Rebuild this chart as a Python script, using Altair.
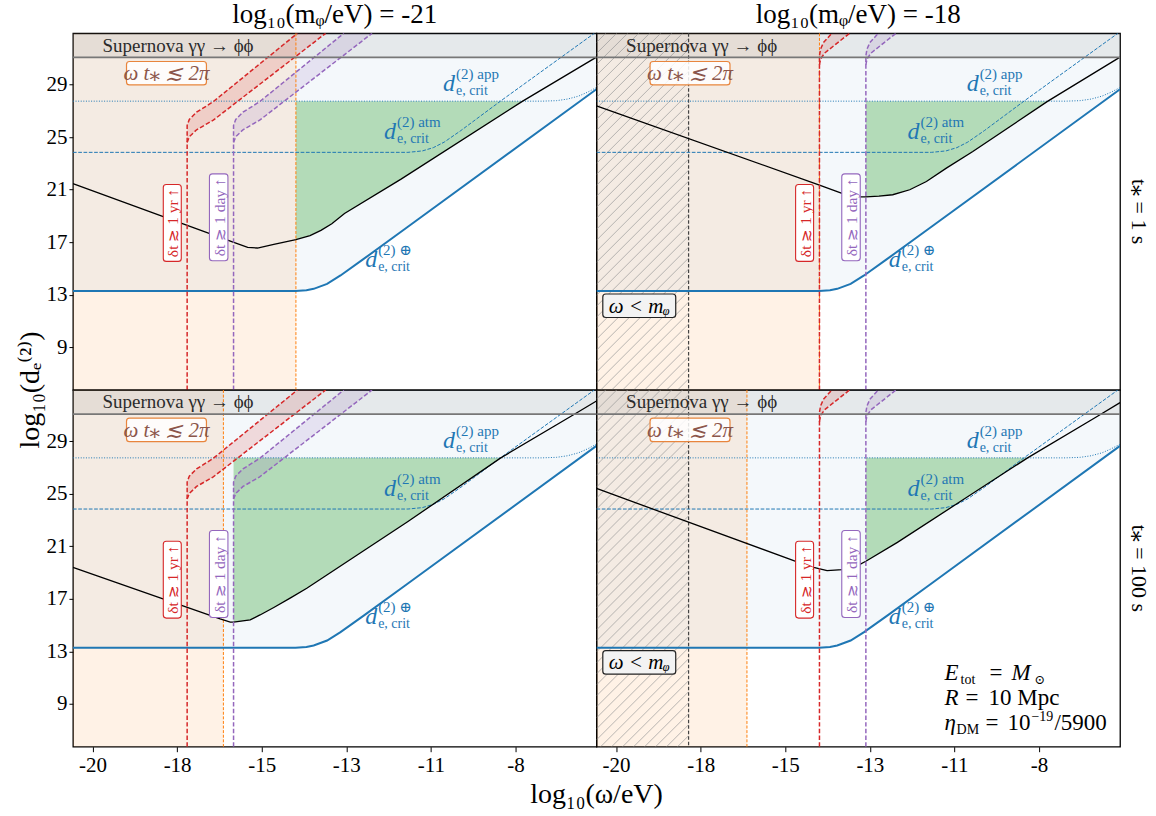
import altair as alt
import pandas as pd

FONT = "Liberation Serif, DejaVu Serif, serif"
BLUE = "#1f77b4"
ORANGE = "#ff7f0e"
GREEN = "#2ca02c"
RED = "#d62728"
PURPLE = "#9467bd"
BROWN = "#8c564b"

# ---- axes -------------------------------------------------------------
X_DOMAIN = [-20.54, -6.10]
Y_DOMAIN = [5.73, 32.91]
X_TICKS = [-20.0, -17.667, -15.333, -13.0, -10.667, -8.333]
Y_TICKS = [9, 13, 17, 21, 25, 29]
PANEL_W = 524
PANEL_H = 357

# ---- panel parameters -------------------------------------------------
LOG_MPHI = [-21, -18]                 # columns: log10(m_phi / eV)
TSTAR_LABELS = ["1 s", "100 s"]       # rows: t_*
LOG_OMEGA_T = [-14.39, -16.39]        # omega t_* = 2 pi
SUPERNOVA_Y = 31.08
APP_LEVEL = 27.74

# ---- critical couplings (same in every panel) -------------------------
EARTH_X = [-20.54, -14.40, -14.10, -13.90, -13.53, -13.16, -12.52, -11.32, -6.10]
EARTH_Y = [13.27, 13.27, 13.33, 13.44, 13.82, 14.46, 15.72, 18.13, 28.65]
APP_X = [-20.54, -7.60, -7.20, -6.90, -6.60, -6.35, -6.10]
APP_Y = [27.74, 27.74, 27.78, 27.90, 28.12, 28.42, 28.78]
ATM_X = [-20.54, -11.30, -10.90, -10.60, -10.30, -9.84, -8.73, -6.16]
ATM_Y = [23.84, 23.84, 23.95, 24.20, 24.62, 25.50, 27.78, 32.91]

# ---- dispersion bands: delta t >~ 1 yr / 1 day ------------------------
BAND_UP_Y_21 = [5.73, 25.90, 26.35, 26.90, 27.70, 32.91]
BAND_LO_Y_21 = [24.60, 25.03, 25.56, 26.29, 32.91]
YR_UP_X_21 = [-17.39, -17.39, -17.33, -17.13, -16.67, -14.35]
YR_LO_X_21 = [-17.39, -17.33, -17.13, -16.67, -13.57]
DAY_UP_X_21 = [-16.11, -16.11, -16.05, -15.85, -15.39, -13.07]
DAY_LO_X_21 = [-16.11, -16.05, -15.85, -15.39, -12.29]

BAND_UP_Y_18 = [5.73, 31.20, 31.70, 32.20, 32.91]
BAND_LO_Y_18 = [30.50, 30.95, 31.40, 31.95, 32.91]
YR_UP_X_18 = [-14.39, -14.39, -14.36, -14.28, -14.05]
YR_LO_X_18 = [-14.39, -14.36, -14.25, -14.00, -13.56]
DAY_UP_X_18 = [-13.11, -13.11, -13.08, -13.00, -12.77]
DAY_LO_X_18 = [-13.11, -13.08, -12.97, -12.72, -12.28]

# ---- projected reach (black curves) -----------------------------------
BLACK_21_1_X = [-20.54, -16.18, -15.72, -15.45, -15.00, -14.39, -14.00, -13.70, -13.40, -13.05, -11.49, -8.135, -6.10]
BLACK_21_1_Y = [21.45, 17.06, 16.60, 16.55, 16.82, 17.19, 17.50, 17.90, 18.40, 19.18, 21.80, 27.74, 31.10]
BLACK_18_1_X = [-20.54, -14.39, -13.90, -13.60, -13.30, -13.11, -12.75, -12.37, -11.90, -11.44, -10.89, -10.16, -8.09, -6.10]
BLACK_18_1_Y = [27.38, 21.35, 20.85, 20.55, 20.45, 20.45, 20.50, 20.61, 20.99, 21.62, 22.64, 23.90, 27.74, 31.10]
BLACK_21_100_X = [-20.54, -16.48, -16.20, -16.11, -15.65, -15.38, -15.00, -14.55, -14.09, -11.32, -8.74, -6.71, -6.10]
BLACK_21_100_Y = [19.40, 15.47, 15.22, 15.22, 15.39, 15.77, 16.34, 17.05, 17.80, 22.85, 27.74, 31.06, 32.07]
BLACK_18_100_X = [-20.54, -15.10, -14.55, -14.18, -13.76, -13.26, -13.11, -12.24, -10.40, -8.65, -6.71, -6.10]
BLACK_18_100_Y = [25.41, 19.91, 19.40, 19.15, 19.22, 19.65, 19.86, 21.30, 24.60, 27.74, 30.93, 31.95]

# green (probed) window: from max(omega t_* cut, 1 day cut) to the app line
GREEN_FROM = {(0, 0): -14.39, (1, 0): -13.11, (0, 1): -16.11, (1, 1): -13.11}
GREEN_TO = {(0, 0): -8.135, (1, 0): -8.09, (0, 1): -8.74, (1, 1): -8.65}

# ---- annotation anchors (data coordinates) ----------------------------
SN_LABEL = (-17.64, 31.52)
WT_BOX = (-17.96, 29.87)
YR_BOX_X = [-17.80, -14.80]
DAY_BOX_X = [-16.52, -13.52]
YR_BOX_Y = 18.46
DAY_BOX_Y = 18.89
OMEGA_M_BOX = (-19.36, 12.15)
APP_LABEL = (-10.00, 28.52)
ATM_LABEL = (-11.63, 24.83)
EARTH_LABEL = (-12.15, 15.10)
PARAM_X = -10.94
PARAM_Y = [10.83, 8.93, 7.03]

XS = alt.Scale(domain=X_DOMAIN, nice=False, zero=False)
YS = alt.Scale(domain=Y_DOMAIN, nice=False, zero=False)
ONE = pd.DataFrame({"k": [0]})

X_AXIS = alt.Axis(
    values=X_TICKS, labelExpr="'' + round(datum.value)", grid=False, domain=False,
    ticks=True, tickSize=5, tickColor="black", tickWidth=1, labelFont=FONT,
    labelFontSize=21, labelColor="black", labelPadding=3, labelFlush=False,
    labelOverlap=False,
)
Y_AXIS = alt.Axis(
    values=Y_TICKS, format="d", grid=False, domain=False, ticks=True, tickSize=4,
    tickColor="black", tickWidth=1, labelFont=FONT, labelFontSize=21,
    labelColor="black", labelPadding=2, labelFlush=False, labelOverlap=False,
)

BLACK = {
    (0, 0): (BLACK_21_1_X, BLACK_21_1_Y),
    (1, 0): (BLACK_18_1_X, BLACK_18_1_Y),
    (0, 1): (BLACK_21_100_X, BLACK_21_100_Y),
    (1, 1): (BLACK_18_100_X, BLACK_18_100_Y),
}
BANDS = {
    0: (YR_UP_X_21, YR_LO_X_21, DAY_UP_X_21, DAY_LO_X_21, BAND_UP_Y_21, BAND_LO_Y_21),
    1: (YR_UP_X_18, YR_LO_X_18, DAY_UP_X_18, DAY_LO_X_18, BAND_UP_Y_18, BAND_LO_Y_18),
}


def rounded_box(w, h, r=3.0):
    L = float(max(w, h))
    a, b, c = w / L, h / L, 2.0 * r / L
    d = (
        f"M{-a + c:.4f},{-b:.4f} L{a - c:.4f},{-b:.4f} Q{a:.4f},{-b:.4f} {a:.4f},{-b + c:.4f} "
        f"L{a:.4f},{b - c:.4f} Q{a:.4f},{b:.4f} {a - c:.4f},{b:.4f} "
        f"L{-a + c:.4f},{b:.4f} Q{-a:.4f},{b:.4f} {-a:.4f},{b - c:.4f} "
        f"L{-a:.4f},{-b + c:.4f} Q{-a:.4f},{-b:.4f} {-a + c:.4f},{-b:.4f} Z"
    )
    return d, L * L


class Panel:
    """One (m_phi, t_*) panel; every layer carries the same axis settings."""

    def __init__(self, mi, ti):
        self.mi, self.ti = mi, ti
        self.ax_x = X_AXIS if ti == 1 else None
        self.ax_y = Y_AXIS if mi == 0 else None

    def ex(self, field="x"):
        return alt.X(field, type="quantitative", scale=XS, axis=self.ax_x, title=None)

    def ey(self, field="y"):
        return alt.Y(field, type="quantitative", scale=YS, axis=self.ax_y, title=None)

    def curve(self, xs, ys, color, width, dash=None):
        df = pd.DataFrame({"x": xs, "y": ys, "i": list(range(len(xs)))})
        kw = dict(color=color, strokeWidth=width, clip=True)
        if dash:
            kw["strokeDash"] = dash
        return alt.Chart(df).mark_line(**kw).encode(
            x=self.ex(), y=self.ey(), order=alt.Order("i:Q"))

    def polygon(self, xs, ys, color, opacity):
        df = pd.DataFrame({"x": xs, "y": ys, "i": list(range(len(xs)))})
        return alt.Chart(df).mark_line(
            fill=color, fillOpacity=opacity, strokeWidth=0, strokeOpacity=0, clip=True
        ).encode(x=self.ex(), y=self.ey(), order=alt.Order("i:Q"))

    def rect(self, x0, x1, y0, y1, color, opacity):
        df = pd.DataFrame({"x": [x0], "x2": [x1], "y": [y0], "y2": [y1]})
        return alt.Chart(df).mark_rect(color=color, opacity=opacity, clip=True).encode(
            x=self.ex("x"), x2=alt.X2("x2"), y=self.ey("y"), y2=alt.Y2("y2"))

    def vrule(self, x, color, width, dash):
        return alt.Chart(pd.DataFrame({"x": [x]})).mark_rule(
            color=color, strokeWidth=width, strokeDash=dash).encode(x=self.ex())

    def box(self, x, y, w, h, fill, stroke, fill_opacity=1.0, sw=1.0):
        path, size = rounded_box(w, h)
        df = pd.DataFrame({"x": [x], "y": [y]})
        return alt.Chart(df).mark_point(
            shape=path, size=size, filled=True, fill=fill, fillOpacity=fill_opacity,
            stroke=stroke, strokeWidth=sw, opacity=1,
        ).encode(x=self.ex(), y=self.ey())

    def text_at(self, x, y, text, size, color="black", align="center", baseline="middle",
                dx=0, dy=0, angle=0, style="normal"):
        df = pd.DataFrame({"x": [x], "y": [y]})
        return alt.Chart(df).mark_text(
            text=text, font=FONT, fontSize=size, color=color, align=align,
            baseline=baseline, dx=dx, dy=dy, angle=angle, fontStyle=style,
        ).encode(x=self.ex(), y=self.ey())

    def dcrit_label(self, anchor, sup):
        x, y = anchor
        return [
            self.text_at(x, y, "d", 24, BLUE, align="right", baseline="alphabetic", style="italic"),
            self.text_at(x, y, sup, 15, BLUE, align="left", baseline="alphabetic", dx=1, dy=-12),
            self.text_at(x, y, "e, crit", 14, BLUE, align="left", baseline="alphabetic", dx=1, dy=4),
        ]

    def hatch(self, x_right, spacing=11.0):
        kx = (X_DOMAIN[1] - X_DOMAIN[0]) / PANEL_W
        ky = (Y_DOMAIN[1] - Y_DOMAIN[0]) / PANEL_H
        W = (x_right - X_DOMAIN[0]) / kx
        H = float(PANEL_H)
        rows = []
        c = -W
        while c < H:
            a0 = max(0.0, -c)
            a1 = min(W, H - c)
            if a1 > a0:
                rows.append({
                    "x": X_DOMAIN[0] + a0 * kx, "y": Y_DOMAIN[0] + (a0 + c) * ky,
                    "x2": X_DOMAIN[0] + a1 * kx, "y2": Y_DOMAIN[0] + (a1 + c) * ky,
                })
            c += spacing
        return alt.Chart(pd.DataFrame(rows)).mark_rule(
            color="#9a9a9a", strokeWidth=0.7, clip=True
        ).encode(x=self.ex("x"), y=self.ey("y"), x2=alt.X2("x2"), y2=alt.Y2("y2"))


def text_px(px, py, text, size, angle=0, baseline="middle", align="center"):
    return alt.Chart(ONE).mark_text(
        text=text, font=FONT, fontSize=size, color="black", angle=angle,
        baseline=baseline, align=align,
    ).encode(x=alt.value(px), y=alt.value(py))


def panel(mi, ti):
    P = Panel(mi, ti)
    bx, by = BLACK[(mi, ti)]
    yr_up, yr_lo, day_up, day_lo, up_y, lo_y = BANDS[mi]
    x_cut = LOG_OMEGA_T[ti]
    has_mass_cut = X_DOMAIN[0] < LOG_MPHI[mi]
    layers = []

    # shaded regions
    layers.append(P.rect(X_DOMAIN[0], x_cut, Y_DOMAIN[0], Y_DOMAIN[1], ORANGE, 0.10))
    earth = pd.DataFrame({"x": EARTH_X, "y": EARTH_Y, "top": [Y_DOMAIN[1]] * len(EARTH_X)})
    layers.append(
        alt.Chart(earth).mark_area(color=BLUE, opacity=0.05, clip=True).encode(
            x=P.ex(), y=P.ey(), y2=alt.Y2("top")))
    g = pd.DataFrame({"x": bx, "y": by})
    g = g[(g.x >= GREEN_FROM[(mi, ti)] - 1e-9) & (g.x <= GREEN_TO[(mi, ti)] + 1e-9)].copy()
    g["top"] = APP_LEVEL
    layers.append(
        alt.Chart(g).mark_area(color=GREEN, opacity=0.32, clip=True).encode(
            x=P.ex(), y=P.ey(), y2=alt.Y2("top")))
    layers.append(P.polygon(yr_up[1:] + yr_lo[::-1], up_y[1:] + lo_y[::-1], RED, 0.15))
    layers.append(P.polygon(day_up[1:] + day_lo[::-1], up_y[1:] + lo_y[::-1], PURPLE, 0.15))
    if has_mass_cut:
        layers.append(P.hatch(LOG_MPHI[mi]))

    # supernova exclusion band
    layers.append(P.rect(X_DOMAIN[0], X_DOMAIN[1], SUPERNOVA_Y, Y_DOMAIN[1], "#808080", 0.13))

    # lines
    layers.append(P.vrule(x_cut, ORANGE, 1, [3, 1.6]))
    if has_mass_cut:
        layers.append(P.vrule(LOG_MPHI[mi], "#444444", 1.2, [3.5, 2]))
    layers.append(P.curve(APP_X, APP_Y, BLUE, 1, [1, 1.6]))
    layers.append(P.curve(ATM_X, ATM_Y, BLUE, 1, [3.7, 1.6]))
    layers.append(P.curve(EARTH_X, EARTH_Y, BLUE, 2))
    layers.append(P.curve(bx, by, "black", 1.3))
    layers.append(P.curve(yr_up, up_y, RED, 1.5, [4.5, 2.2]))
    layers.append(P.curve(yr_lo, lo_y, RED, 1.5, [4.5, 2.2]))
    layers.append(P.curve(day_up, up_y, PURPLE, 1.5, [4.5, 2.2]))
    layers.append(P.curve(day_lo, lo_y, PURPLE, 1.5, [4.5, 2.2]))
    layers.append(
        alt.Chart(pd.DataFrame({"y": [SUPERNOVA_Y]})).mark_rule(
            color="#777777", strokeWidth=1.8).encode(y=P.ey()))

    # annotations
    layers.append(P.text_at(SN_LABEL[0], SN_LABEL[1], "Supernova γγ → ϕϕ", 19, "#2b2b2b",
                            baseline="alphabetic"))
    layers.append(P.box(WT_BOX[0], WT_BOX[1], 80, 23.5, "white", "#e8853d", 0.85, 1.2))
    layers.append(P.text_at(WT_BOX[0], WT_BOX[1], "ω t⁎ ≲ 2π", 21, BROWN, style="italic", dy=1))
    layers.append(P.box(YR_BOX_X[mi], YR_BOX_Y, 18, 77, "white", RED, 1.0, 1.1))
    layers.append(P.text_at(YR_BOX_X[mi], YR_BOX_Y, "δt ≳ 1 yr ↑", 15.5, RED, angle=270, dy=1))
    layers.append(P.box(DAY_BOX_X[mi], DAY_BOX_Y, 18.5, 87, "white", PURPLE, 1.0, 1.1))
    layers.append(P.text_at(DAY_BOX_X[mi], DAY_BOX_Y, "δt ≳ 1 day ↑", 15.5, PURPLE, angle=270, dy=1))
    layers += P.dcrit_label(APP_LABEL, "(2) app")
    layers += P.dcrit_label(ATM_LABEL, "(2) atm")
    layers += P.dcrit_label(EARTH_LABEL, "(2) ⊕")

    if has_mass_cut:
        layers.append(P.box(OMEGA_M_BOX[0], OMEGA_M_BOX[1], 73, 23.5, "#f3f3f3", "#222222", 1.0, 1.2))
        layers.append(P.text_at(OMEGA_M_BOX[0], OMEGA_M_BOX[1], "ω < mᵩ", 21, "black",
                                style="italic", dy=1))

    if (mi, ti) == (1, 1):
        pieces = [
            (0, "E", 23, 0, 0, "italic"), (0, "tot", 14, 16, 4, "normal"),
            (0, "=", 23, 45, 0, "normal"), (0, "M", 23, 67, 0, "italic"),
            (0, "⊙", 13, 90, 4, "normal"),
            (1, "R", 23, 0, 0, "italic"), (1, "=", 23, 21, 0, "normal"),
            (1, "10 Mpc", 23, 44, 0, "normal"),
            (2, "η", 23, 0, 0, "italic"), (2, "DM", 14, 12, 4, "normal"),
            (2, "=", 23, 41, 0, "normal"), (2, "10", 23, 63, 0, "normal"),
            (2, "−19", 14, 87, -9, "normal"), (2, "/5900", 23, 110, 0, "normal"),
        ]
        for line, txt, size, dx, dy, style in pieces:
            layers.append(P.text_at(PARAM_X, PARAM_Y[line], txt, size, "black", align="left",
                                    baseline="alphabetic", dx=dx, dy=dy, style=style))

    # outer titles
    if ti == 0:
        layers.append(text_px(PANEL_W / 2, -10, f"log₁₀(mᵩ/eV) = {LOG_MPHI[mi]}", 27,
                              baseline="alphabetic"))
    if mi == 1:
        layers.append(text_px(PANEL_W + 19, PANEL_H / 2, f"t⁎ = {TSTAR_LABELS[ti]}", 22, angle=90))
    if (mi, ti) == (0, 0):
        layers.append(text_px(-42, PANEL_H, "log₁₀(dₑ⁽²⁾)", 28, angle=270))
    if (mi, ti) == (0, 1):
        layers.append(text_px(PANEL_W, PANEL_H + 56, "log₁₀(ω/eV)", 28, baseline="alphabetic"))

    return alt.layer(*layers).properties(width=PANEL_W, height=PANEL_H)


chart = (
    alt.concat(panel(0, 0), panel(1, 0), panel(0, 1), panel(1, 1),
               columns=2, spacing=0, bounds="flush")
    .properties(padding={"left": 16, "top": 0, "right": 5, "bottom": 5})
    .configure_view(stroke="black", strokeWidth=1.3)
)

chart.save("out.html", embed_options={"renderer": "svg", "actions": False})
